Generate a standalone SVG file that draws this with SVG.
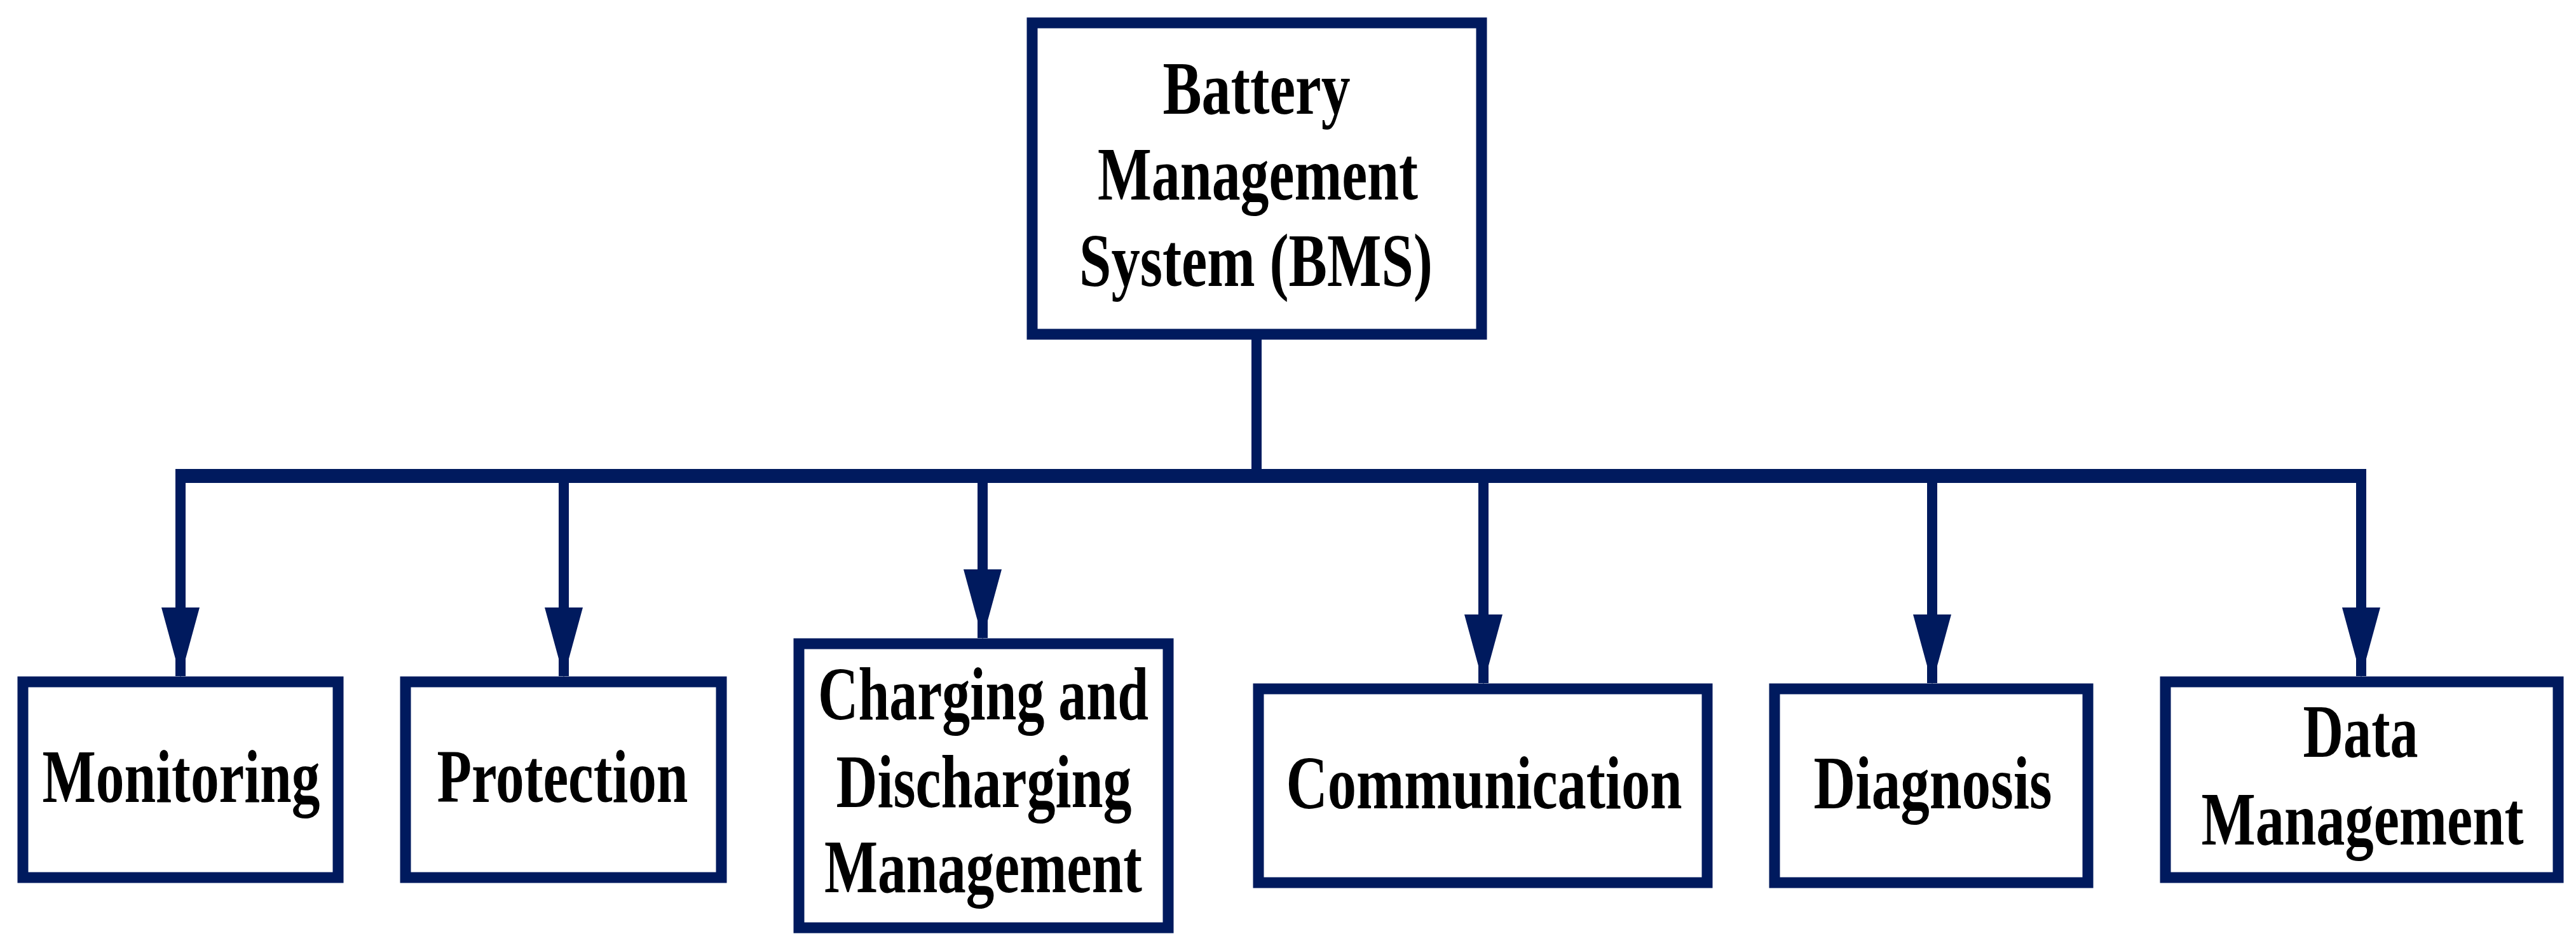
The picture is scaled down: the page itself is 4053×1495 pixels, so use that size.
<svg xmlns="http://www.w3.org/2000/svg" width="4053" height="1495" viewBox="0 0 4053 1495">
<style>
.box{fill:#fff;stroke:#001a5e;stroke-width:17}
.ln{fill:none;stroke:#001a5e;stroke-width:16}
text{font-family:"Liberation Serif","Times New Roman",serif;font-weight:bold;font-size:118px;fill:#000;text-anchor:middle}
</style>
<g id="connectors">
<line class="ln" x1="1977" y1="534" x2="1977" y2="749"/>
<line class="ln" x1="276" y1="749" x2="3723" y2="749" style="stroke-width:22"/>
<path d="M284 749V1064M887 749V1064M1546 749V1004M2334 749V1075M3040 749V1075M3715 749V1064" class="ln"/>
<g fill="#001a5e">
<path d="M254 956H314L284 1066Z"/><path d="M857 956H917L887 1066Z"/><path d="M1516 896H1576L1546 1006Z"/><path d="M2304 967H2364L2334 1077Z"/><path d="M3010 967H3070L3040 1077Z"/><path d="M3685 956H3745L3715 1066Z"/>
</g>
</g>
<g id="bms"><rect class="box" x="1624" y="36" width="707" height="490"/>
<text x="1977" y="179" textLength="295" lengthAdjust="spacingAndGlyphs">Battery</text>
<text x="1979" y="314" textLength="504" lengthAdjust="spacingAndGlyphs">Management</text>
<text x="1976" y="450" textLength="556" lengthAdjust="spacingAndGlyphs">System (BMS)</text></g>
<g id="monitoring"><rect class="box" x="36" y="1073" width="496" height="308"/><text x="285" y="1262" textLength="437" lengthAdjust="spacingAndGlyphs">Monitoring</text></g>
<g id="protection"><rect class="box" x="638" y="1073" width="497" height="308"/><text x="885" y="1262" textLength="395" lengthAdjust="spacingAndGlyphs">Protection</text></g>
<g id="charging"><rect class="box" x="1257" y="1013" width="581" height="447"/>
<text x="1547" y="1132" font-size="112" textLength="520" lengthAdjust="spacingAndGlyphs">Charging and</text>
<text x="1548" y="1270" font-size="112" textLength="465" lengthAdjust="spacingAndGlyphs">Discharging</text>
<text x="1547" y="1404" font-size="112" textLength="500" lengthAdjust="spacingAndGlyphs">Management</text></g>
<g id="communication"><rect class="box" x="1980" y="1084" width="706" height="305"/><text x="2335" y="1272" textLength="623" lengthAdjust="spacingAndGlyphs">Communication</text></g>
<g id="diagnosis"><rect class="box" x="2792" y="1084" width="493" height="305"/><text x="3041" y="1272" textLength="375" lengthAdjust="spacingAndGlyphs">Diagnosis</text></g>
<g id="data"><rect class="box" x="3407" y="1073" width="618" height="308"/>
<text x="3714" y="1191" textLength="181" lengthAdjust="spacingAndGlyphs">Data</text>
<text x="3717" y="1329" textLength="507" lengthAdjust="spacingAndGlyphs">Management</text></g>
</svg>
